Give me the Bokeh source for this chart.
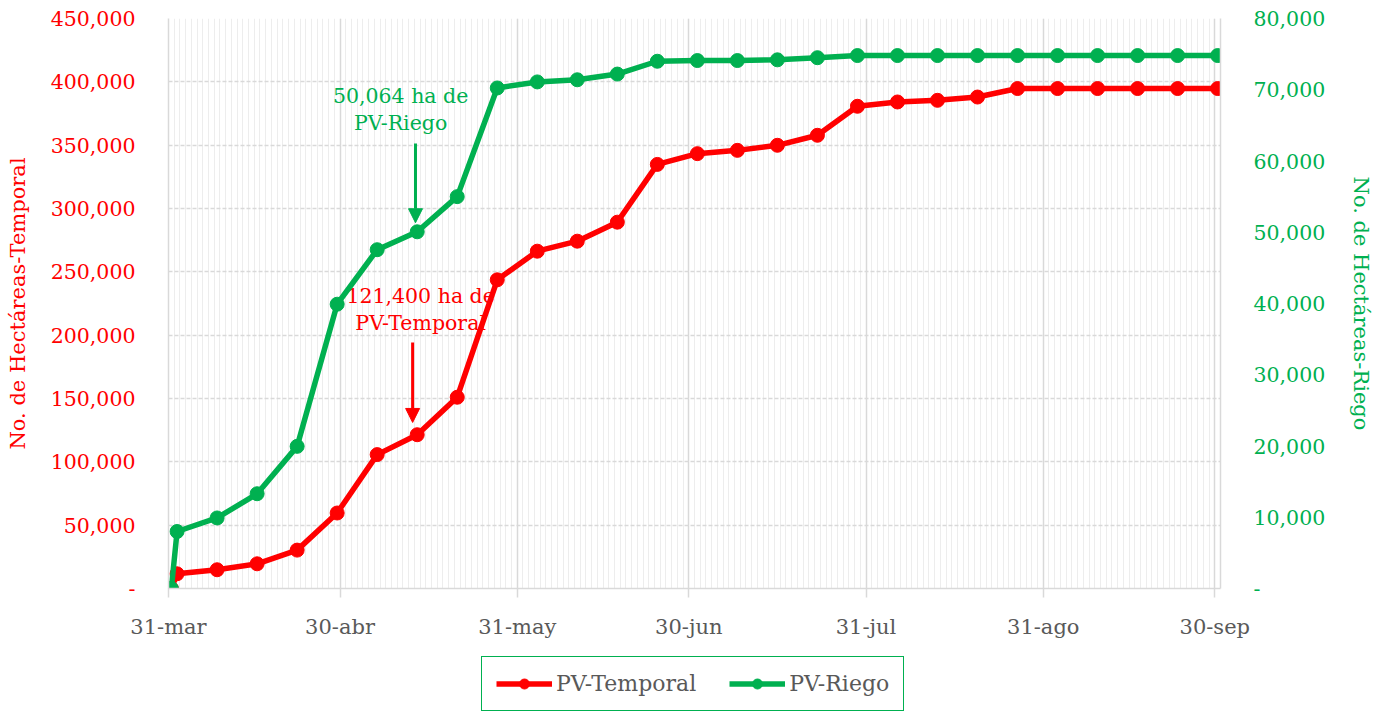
import pandas as pd
from bokeh.plotting import figure
from bokeh.layouts import column
from bokeh.models import (ColumnDataSource, Range1d, LinearAxis, FixedTicker,
                          NumeralTickFormatter, Legend, LegendItem, Label, Arrow, NormalHead)
from bokeh.embed import file_html
from bokeh.resources import INLINE

# ---------------- data ----------------
fechas = ["2023-03-31", "2023-04-01", "2023-04-08", "2023-04-15", "2023-04-22",
          "2023-04-29", "2023-05-06", "2023-05-13", "2023-05-20", "2023-05-27",
          "2023-06-03", "2023-06-10", "2023-06-17", "2023-06-24", "2023-07-01",
          "2023-07-08", "2023-07-15", "2023-07-22", "2023-07-29", "2023-08-05",
          "2023-08-12", "2023-08-19", "2023-08-26", "2023-09-02", "2023-09-09",
          "2023-09-16", "2023-09-23", "2023-09-30"]
pv_temporal = [0, 11600, 14800, 19500, 30300, 59600, 105700, 121400, 151000, 243700,
               266300, 274200, 289200, 334800, 343300, 345900, 349900, 357800, 380700,
               384100, 385400, 388000, 394700, 394700, 394700, 394700, 394700, 394700]
pv_riego = [0, 8000, 9900, 13300, 19950, 39900, 47550, 50064, 55000, 70250,
            71100, 71400, 72200, 74000, 74100, 74100, 74200, 74500, 74800,
            74800, 74800, 74800, 74800, 74800, 74800, 74800, 74800, 74800]
tick_fechas = ["2023-03-31", "2023-04-30", "2023-05-31", "2023-06-30",
               "2023-07-31", "2023-08-31", "2023-09-30"]
tick_labels = ["31-mar", "30-abr", "31-may", "30-jun", "31-jul", "31-ago", "30-sep"]
series_names = ["PV-Temporal", "PV-Riego"]
titulo = "Ciclo PV"
y_left_title = "No. de Hectáreas-Temporal"
y_right_title = "No. de Hectáreas-Riego"
ann_fecha = "2023-05-13"
ann_riego_text = "50,064 ha de\nPV-Riego"
ann_temporal_text = "121,400 ha de\nPV-Temporal"

# ---------------- styling ----------------
RED = "#ff0000"
GREEN = "#00b050"
GRAY_TXT = "#595959"
GRID = "#d9d9d9"
MINOR = "#ededed"
FONT = "DejaVu Serif"

start = pd.Timestamp(fechas[0])
dias = [(pd.Timestamp(f) - start).days + 0.5 for f in fechas]
tick_pos = [(pd.Timestamp(f) - start).days for f in tick_fechas]
x_end = tick_pos[-1] + 1

src = ColumnDataSource(dict(x=dias, temporal=pv_temporal, riego=pv_riego))

W, H_TOTAL, H1 = 1379, 711, 650
FL, FT, FR, FB = 168, 18, 1220, 588
p = figure(width=W, height=H1, output_backend="svg", toolbar_location=None,
           x_range=Range1d(0, x_end), y_range=Range1d(0, 450000),
           min_border_left=FL, min_border_right=W - FR, min_border_top=FT,
           min_border_bottom=H1 - FB)
p.outline_line_color = None
p.background_fill_color = "white"
p.border_fill_color = "white"
p.extra_y_ranges = {"riego": Range1d(0, 80000)}

# x axis
xax = p.xaxis[0]
xax.ticker = FixedTicker(ticks=tick_pos, minor_ticks=list(range(0, x_end + 1)))
xax.major_label_overrides = {t: l for t, l in zip(tick_pos, tick_labels)}
xax.axis_line_color = GRID
xax.axis_line_width = 1.5
xax.major_tick_line_color = GRID
xax.major_tick_line_width = 1.5
xax.major_tick_out = 9
xax.major_tick_in = 0
xax.minor_tick_line_color = None
xax.major_label_standoff = 17
xax.major_label_text_font = FONT
xax.major_label_text_font_size = "21px"
xax.major_label_text_color = GRAY_TXT

# left axis
lax = p.left[0]
lax.ticker = FixedTicker(ticks=list(range(0, 450001, 50000)))
lax.formatter = NumeralTickFormatter(format="0,0")
lax.major_label_overrides = {0: "-"}
lax.axis_line_color = GRID
lax.axis_line_width = 1.5
lax.major_tick_line_color = None
lax.minor_tick_line_color = None
lax.major_tick_out = 0
lax.major_tick_in = 0
lax.major_label_standoff = 33
lax.major_label_text_font = FONT
lax.major_label_text_font_size = "20.5px"
lax.major_label_text_color = RED
lax.axis_label = y_left_title
lax.axis_label_text_font = FONT
lax.axis_label_text_font_size = "21px"
lax.axis_label_text_font_style = "normal"
lax.axis_label_text_color = RED
lax.axis_label_standoff = 18

# right axis
rax = LinearAxis(y_range_name="riego")
rax.ticker = FixedTicker(ticks=list(range(0, 80001, 10000)))
rax.formatter = NumeralTickFormatter(format="0,0")
rax.major_label_overrides = {0: "-"}
rax.axis_line_color = GRID
rax.axis_line_width = 1.5
rax.major_tick_line_color = None
rax.minor_tick_line_color = None
rax.major_tick_out = 0
rax.major_tick_in = 0
rax.major_label_standoff = 33
rax.major_label_text_font = FONT
rax.major_label_text_font_size = "20.5px"
rax.major_label_text_color = GREEN
rax.axis_label = y_right_title
rax.axis_label_text_font = FONT
rax.axis_label_text_font_size = "21px"
rax.axis_label_text_font_style = "normal"
rax.axis_label_text_color = GREEN
rax.axis_label_standoff = 21
p.add_layout(rax, "right")

# grids
p.xgrid.grid_line_color = GRID
p.xgrid.grid_line_width = 1.5
p.xgrid.minor_grid_line_color = MINOR
p.xgrid.minor_grid_line_width = 1
p.ygrid.grid_line_color = GRID
p.ygrid.grid_line_width = 1.5
p.ygrid.grid_line_dash = "4 2"

# annotation texts (under the lines)
idx = fechas.index(ann_fecha)
xa = dias[idx]
lab_r = Label(x=xa - 2.9, y=pv_riego[idx] + 17200, text=ann_riego_text,
              y_range_name="riego", text_align="center", text_baseline="middle",
              text_font=FONT, text_font_size="20.5px", text_color=GREEN,
              text_line_height=1.12, level="underlay")
lab_t = Label(x=xa + 0.6, y=pv_temporal[idx] + 99200, text=ann_temporal_text,
              text_align="center", text_baseline="middle",
              text_font=FONT, text_font_size="20.5px", text_color=RED,
              text_line_height=1.12, level="underlay")
p.add_layout(lab_r)
p.add_layout(lab_t)

# series
LINE_W, MARK = 5.5, 14
r_line = p.line("x", "temporal", source=src, line_color=RED, line_width=LINE_W, line_join="round")
r_pts = p.scatter("x", "temporal", source=src, marker="circle", size=MARK,
                  fill_color=RED, line_color=RED)
g_line = p.line("x", "riego", source=src, line_color=GREEN, line_width=LINE_W,
                line_join="round", y_range_name="riego")
g_pts = p.scatter("x", "riego", source=src, marker="circle", size=MARK,
                  fill_color=GREEN, line_color=GREEN, y_range_name="riego")

# arrows
p.add_layout(Arrow(end=NormalHead(size=14, fill_color=GREEN, line_color=GREEN),
                   x_start=xa - 0.3, y_start=pv_riego[idx] + 12400,
                   x_end=xa - 0.3, y_end=pv_riego[idx] + 1270,
                   line_color=GREEN, line_width=3, y_range_name="riego"))
p.add_layout(Arrow(end=NormalHead(size=14, fill_color=RED, line_color=RED),
                   x_start=xa - 0.8, y_start=pv_temporal[idx] + 72900,
                   x_end=xa - 0.8, y_end=pv_temporal[idx] + 9700,
                   line_color=RED, line_width=3))

# title (cut off at the top edge, as in the source)
p.add_layout(Label(x=x_end / 2, y=460300, text=titulo, text_align="center",
                   text_baseline="alphabetic", text_font=FONT,
                   text_font_size="24px", text_color="black"))

# ---------------- legend strip (second figure below) ----------------
H2 = H_TOTAL - H1
q = figure(width=W, height=H2, output_backend="svg", toolbar_location=None,
           x_range=Range1d(0, 1), y_range=Range1d(0, 1),
           x_axis_location=None, y_axis_location=None,
           min_border_left=0, min_border_right=0, min_border_top=0, min_border_bottom=0)
q.outline_line_color = None
q.grid.visible = False
q.background_fill_color = "white"
q.border_fill_color = "white"
qr_line = q.line([-5, -4], [-5, -4], line_color=RED, line_width=LINE_W)
qr_pts = q.scatter([-5], [-5], marker="circle", size=MARK, fill_color=RED, line_color=RED)
qg_line = q.line([-5, -4], [-5, -4], line_color=GREEN, line_width=LINE_W)
qg_pts = q.scatter([-5], [-5], marker="circle", size=MARK, fill_color=GREEN, line_color=GREEN)

LEG_H, LEG_TOP = 53, 658
# the strip's frame is aligned with the main frame (left edge at FL)
legend = Legend(items=[LegendItem(label=series_names[0], renderers=[qr_line, qr_pts]),
                       LegendItem(label=series_names[1], renderers=[qg_line, qg_pts])],
                orientation="horizontal", location=(481 - FL, H2 - (LEG_TOP - H1) - LEG_H),
                border_line_color=GREEN, border_line_width=1.5, border_line_alpha=1.0,
                background_fill_color="white", background_fill_alpha=1,
                label_text_font=FONT, label_text_font_size="22px",
                label_text_color=GRAY_TXT, glyph_width=56, glyph_height=25,
                label_height=25, padding=14, spacing=33, label_standoff=4, margin=0)
q.add_layout(legend, "center")

layout = column(p, q, spacing=0)
open("out.html", "w").write(file_html(layout, INLINE))
